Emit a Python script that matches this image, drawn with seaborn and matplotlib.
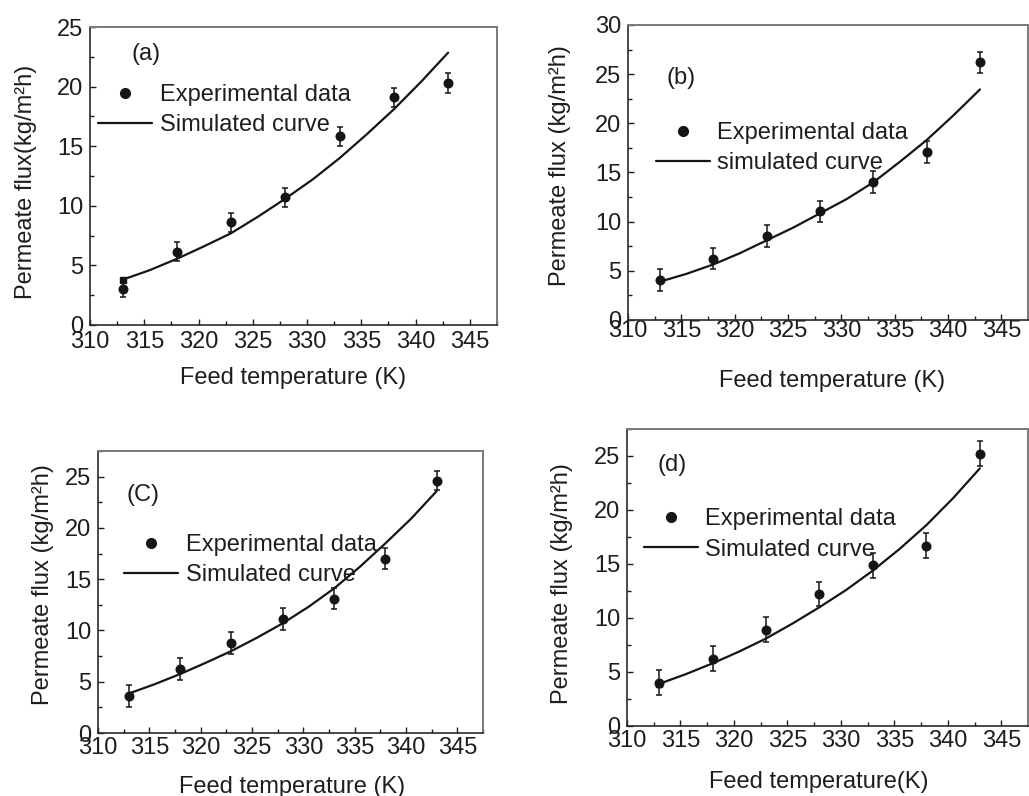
import numpy as np
import pandas as pd
import matplotlib
matplotlib.use("Agg")
import matplotlib.pyplot as plt
from matplotlib.lines import Line2D
from matplotlib.ticker import MultipleLocator
import seaborn as sns

# ---------------- data ----------------
temps = [313, 318, 323, 328, 333, 338, 343]
curve_t = [313, 315.5, 318, 320.5, 323, 325.5, 328, 330.5, 333, 335.5, 338, 340.5, 343]

exp_a = [3.05, 6.15, 8.6, 10.7, 15.85, 19.1, 20.3]
err_a = [0.7, 0.8, 0.8, 0.8, 0.8, 0.8, 0.8]
sim_a = [3.8, 4.6, 5.55, 6.6, 7.7, 9.1, 10.6, 12.2, 14.0, 16.0, 18.1, 20.4, 22.85]

exp_b = [4.05, 6.25, 8.55, 11.05, 14.05, 17.1, 26.2]
err_b = [1.1, 1.1, 1.1, 1.1, 1.1, 1.1, 1.1]
sim_b = [3.9, 4.7, 5.65, 6.8, 8.1, 9.4, 10.85, 12.3, 14.0, 16.1, 18.3, 20.8, 23.45]

exp_c = [3.6, 6.25, 8.8, 11.1, 13.1, 17.0, 24.6]
err_c = [1.05, 1.05, 1.05, 1.05, 1.05, 1.05, 0.95]
sim_c = [3.85, 4.75, 5.75, 6.85, 8.0, 9.3, 10.7, 12.3, 14.1, 16.2, 18.5, 20.9, 23.6]

exp_d = [4.0, 6.25, 8.9, 12.2, 14.9, 16.7, 25.2]
err_d = [1.15, 1.15, 1.15, 1.1, 1.15, 1.15, 1.15]
sim_d = [3.9, 4.8, 5.8, 6.9, 8.1, 9.5, 11.0, 12.6, 14.4, 16.4, 18.6, 21.1, 23.86]

panel_labels = ["(a)", "(b)", "(C)", "(d)"]
ylabels = ["Permeate flux(kg/m²h)", "Permeate flux (kg/m²h)",
           "Permeate flux (kg/m²h)", "Permeate flux (kg/m²h)"]
xlabels = ["Feed temperature (K)", "Feed temperature (K)",
           "Feed temperature (K)", "Feed temperature(K)"]
legend_labels = [["Experimental data", "Simulated curve"],
                 ["Experimental data", "simulated curve"],
                 ["Experimental data", "Simulated curve"],
                 ["Experimental data", "Simulated curve"]]
ylims = [25, 30, 27.5, 27.5]
yticks_max = [25, 30, 25, 25]

# ---------------- style ----------------
sns.set_theme(style="ticks")
plt.rcParams['font.family'] = ['Liberation Sans', 'DejaVu Sans']
FS = 17
INK = "#151515"
TXT = "#1e1e1e"

W, H = 1029, 796
fig = plt.figure(figsize=(W / 100, H / 100), dpi=100)

# axes boxes in pixels: left, right, top, bottom
boxes = [(90, 497, 27, 325), (628, 1028, 25, 320), (98, 483, 451, 733), (627, 1028, 429, 726)]
panel_pos = [(0.103, 0.91), (0.095, 0.82), (0.075, 0.844), (0.075, 0.879)]
legend_pos = [(0.02, 0.808), (0.070, 0.671), (0.068, 0.705), (0.0425, 0.733)]
xtick_pad = [4.0, 0.3, 3.2, 3.2]
xlabel_pos = [(0.50, -0.142), (0.509, -0.168), (0.503, -0.152), (0.478, -0.152)]
ylabel_pos = [(-0.13, 0.48), (-0.143, 0.525), (-0.114, 0.525), (-0.135, 0.48)]
start_square = [True, False, False, True]

exps = [exp_a, exp_b, exp_c, exp_d]
errs = [err_a, err_b, err_c, err_d]
sims = [sim_a, sim_b, sim_c, sim_d]

for i in range(4):
    l, r, t, b = boxes[i]
    ax = fig.add_axes([l / W, (H - b) / H, (r - l) / W, (b - t) / H])
    ax.set_facecolor("white")

    sim_df = pd.DataFrame({"T": curve_t, "J": sims[i]})
    exp_df = pd.DataFrame({"T": temps, "J": exps[i], "err": errs[i]})

    sns.lineplot(data=sim_df, x="T", y="J", ax=ax, color=INK, linewidth=1.6,
                 estimator=None, sort=False, zorder=3)
    if start_square[i]:
        ax.plot(sim_df["T"], sim_df["J"], ls="none", marker="s", markersize=4,
                color=INK, markevery=[0], zorder=3)
    ax.errorbar(exp_df["T"], exp_df["J"], yerr=exp_df["err"], fmt="none",
                ecolor=INK, elinewidth=1.1, capsize=2.2, capthick=1.1, zorder=4)
    sns.scatterplot(data=exp_df, x="T", y="J", ax=ax, color=INK, s=52,
                    edgecolor=INK, linewidth=0, zorder=5)

    ax.set_xlim(310, 347.5)
    ax.set_ylim(0, ylims[i])
    ax.set_xticks(np.arange(310, 346, 5))
    ax.set_yticks(np.arange(0, yticks_max[i] + 1, 5))
    ax.xaxis.set_minor_locator(MultipleLocator(2.5))
    ax.yaxis.set_minor_locator(MultipleLocator(2.5))
    ax.tick_params(which="both", direction="in", top=False, right=False,
                   color=TXT, labelcolor=TXT, labelsize=FS)
    ax.tick_params(which="major", length=4, width=1.0)
    ax.tick_params(which="minor", length=3, width=1.0)
    ax.tick_params(axis="x", which="major", pad=xtick_pad[i])
    ax.tick_params(axis="y", which="major", pad=5)

    for side in ["left", "bottom"]:
        ax.spines[side].set_color("#2a2a2a")
        ax.spines[side].set_linewidth(1.2)
    for side in ["top", "right"]:
        ax.spines[side].set_visible(True)
        ax.spines[side].set_color("#7a7a7a")
        ax.spines[side].set_linewidth(1.4)

    ax.set_xlabel(xlabels[i], fontsize=FS, color=TXT)
    ax.set_ylabel(ylabels[i], fontsize=FS, color=TXT)
    ax.xaxis.set_label_coords(*xlabel_pos[i])
    ax.yaxis.set_label_coords(*ylabel_pos[i])

    ax.text(panel_pos[i][0], panel_pos[i][1], panel_labels[i], transform=ax.transAxes,
            fontsize=FS, color=TXT, ha="left", va="center")

    handles = [Line2D([], [], ls="none", marker="o", markersize=7, color=INK),
               Line2D([], [], color=INK, linewidth=1.6)]
    ax.legend(handles, legend_labels[i], loc="upper left",
              bbox_to_anchor=legend_pos[i], frameon=False, fontsize=FS,
              borderpad=0, borderaxespad=0, handlelength=2.3,
              handletextpad=0.3, labelspacing=0.35, labelcolor=TXT)

fig.savefig("out.png", dpi=100, facecolor="white")
